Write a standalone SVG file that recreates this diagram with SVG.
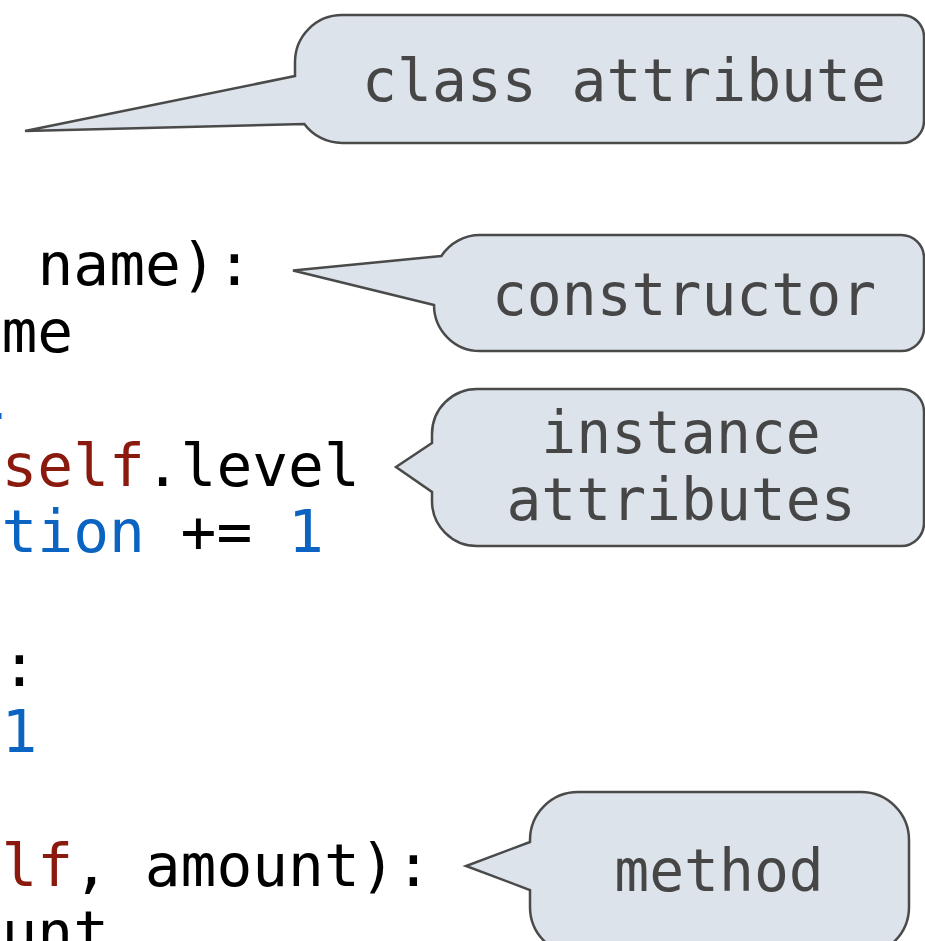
<svg xmlns="http://www.w3.org/2000/svg" width="925" height="941" viewBox="0 0 925 941">
  <style>
    .code { font-family: "DejaVu Sans Mono", "Liberation Mono", monospace; font-size: 59.5px; fill: #000000; }
    .kw { fill: #8b1a0e; }
    .num { fill: #0b64c1; }
    .bubble { fill: #dce3ea; stroke: #4a4a4a; stroke-width: 2.5; stroke-linejoin: miter; }
    .label { font-family: "DejaVu Sans Mono", "Liberation Mono", monospace; font-size: 58px; fill: #464646; text-anchor: middle; }
  </style>

  <rect x="0" y="0" width="925" height="941" fill="#ffffff"/>

  <!-- source code, partially scrolled off the left edge -->
  <g id="code">
    <text class="code" x="37.5" y="285">name):</text>
    <text class="code" x="1.5" y="352">me</text>
    <rect x="0" y="413" width="1.5" height="6" class="num"/>
    <text class="code" x="1.5" y="486"><tspan class="kw">self</tspan>.level</text>
    <text class="code" x="1.5" y="552"><tspan class="num">tion</tspan> += <tspan class="num">1</tspan></text>
    <text class="code" x="1.5" y="686">:</text>
    <text class="code num" x="1.5" y="752">1</text>
    <text class="code" x="1.5" y="886"><tspan class="kw">lf</tspan>, amount):</text>
    <text class="code" x="1.5" y="953">unt</text>
  </g>

  <!-- callouts; each tail is part of its bubble outline -->
  <g id="class-attribute">
    <path class="bubble" d="M 295,76 L 25,131 L 304.3,124 A 47,47 0 0 0 342,143 H 902 A 22,22 0 0 0 924,121 V 37 A 22,22 0 0 0 902,15 H 342 A 47,47 0 0 0 295,62 Z"/>
    <text class="label" x="624" y="101">class attribute</text>
  </g>

  <g id="constructor">
    <path class="bubble" d="M 441.4,256 L 293,270.5 L 434,305 A 46,46 0 0 0 480,351 H 901 A 23,23 0 0 0 924,328 V 258 A 23,23 0 0 0 901,235 H 480 A 46,46 0 0 0 441.4,256 Z"/>
    <text class="label" x="684" y="315">constructor</text>
  </g>

  <g id="instance-attributes">
    <path class="bubble" d="M 432,443 L 396,467 L 432,492 V 501 A 45,45 0 0 0 477,546 H 901 A 23,23 0 0 0 924,523 V 412 A 23,23 0 0 0 901,389 H 477 A 45,45 0 0 0 432,434 Z"/>
    <text class="label" x="681" y="453">instance</text>
    <text class="label" x="681" y="520">attributes</text>
  </g>

  <g id="method">
    <path class="bubble" d="M 530,842 L 466,866 L 530,890 V 907 A 48,48 0 0 0 578,955 H 861 A 48,48 0 0 0 909,907 V 840 A 48,48 0 0 0 861,792 H 578 A 48,48 0 0 0 530,840 Z"/>
    <text class="label" x="719" y="891">method</text>
  </g>

  <g id="connectors"></g>
</svg>
